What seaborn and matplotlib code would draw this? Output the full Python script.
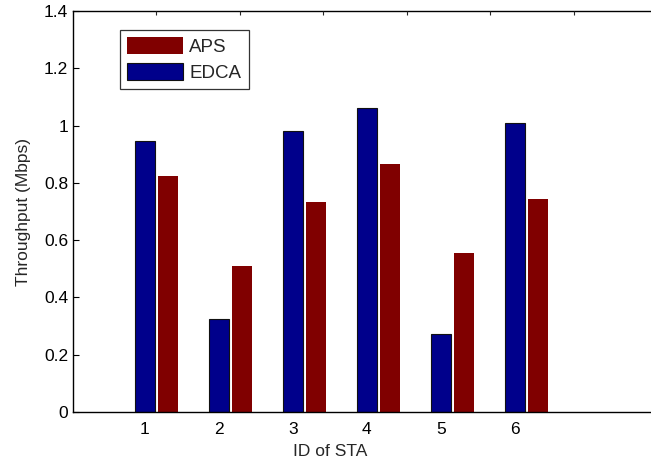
import numpy as np
import pandas as pd
import matplotlib
matplotlib.use("Agg")
import matplotlib.pyplot as plt
import seaborn as sns
from matplotlib.patches import Patch

sta_ids = [1, 2, 3, 4, 5, 6]
edca = [0.945, 0.324, 0.982, 1.061, 0.272, 1.010]
aps = [0.824, 0.510, 0.733, 0.866, 0.555, 0.744]
series_names = ["EDCA", "APS"]
colors = {"EDCA": "#00008B", "APS": "#800000"}

df = pd.DataFrame({
    "ID": sta_ids * 2,
    "Scheme": ["EDCA"] * len(sta_ids) + ["APS"] * len(sta_ids),
    "Throughput": edca + aps,
})

sns.set_style("white")
plt.rcParams["font.family"] = ["Liberation Sans", "DejaVu Sans"]

fig = plt.figure(figsize=(6.51, 4.61), dpi=100)
ax = fig.add_axes([73 / 651, (461 - 412) / 461, 584 / 651, 401 / 461])

sns.barplot(data=df, x="ID", y="Throughput", hue="Scheme", hue_order=series_names,
            palette=colors, native_scale=True, width=0.62, gap=0.13,
            saturation=1, errorbar=None, ax=ax, legend=False)

for p in ax.patches:
    fc = p.get_facecolor()
    if fc[2] > 0.3:
        p.set_edgecolor("#111111")
        p.set_linewidth(0.8)
    else:
        p.set_linewidth(0)

offset = 0.155
ax.set_xticks(np.array(sta_ids) - offset, [str(i) for i in sta_ids])
ax.set_xlim(0.03 - offset, 7.92 - offset)
ax.set_ylim(0, 1.4)
ax.set_yticks(np.arange(0, 1.41, 0.2), ["0", "0.2", "0.4", "0.6", "0.8", "1", "1.2", "1.4"])
ax.tick_params(direction="in", length=4, width=0.8, labelsize=12.5, colors="black",
               top=False, right=True, left=True, bottom=True)
ax.tick_params(axis="x", pad=7.5)
ax.tick_params(axis="y", pad=3.5)
for s in ax.spines.values():
    s.set_visible(True)
    s.set_color("black")
    s.set_linewidth(1.0)

# second overlay axis ticks on top (as in the original figure)
ax2 = ax.twiny()
ax2.set_xlim(0, 7)
ax2.set_xticks(range(1, 7))
ax2.tick_params(axis="x", direction="in", length=3, labeltop=False, top=True)
for s in ax2.spines.values():
    s.set_visible(False)

ax.set_xlabel("ID of STA", fontsize=12.5, labelpad=5)
ax.xaxis.label.set_x(0.44)
ax.set_ylabel("Throughput (Mbps)", fontsize=12.5, labelpad=9)

handles = [Patch(facecolor=colors["APS"], edgecolor="none", label="APS"),
           Patch(facecolor=colors["EDCA"], edgecolor="#111111", linewidth=0.8, label="EDCA")]
leg = ax.legend(handles=handles, loc="upper left", bbox_to_anchor=(0.08, 0.953),
                borderaxespad=0, fontsize=13.5, frameon=True, fancybox=False,
                edgecolor="black", handlelength=3.0, handleheight=0.95,
                handletextpad=0.3, borderpad=0.4, labelspacing=0.4)
leg.get_frame().set_linewidth(0.9)

fig.savefig("out.png", dpi=100)
